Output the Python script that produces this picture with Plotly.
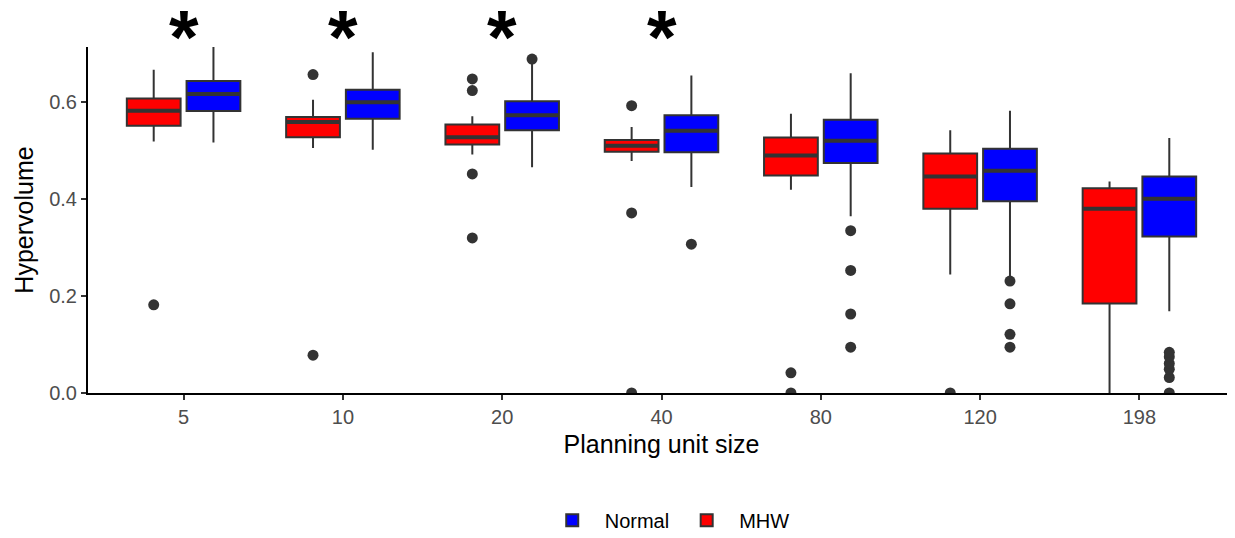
import plotly.graph_objects as go

categories = ["5", "10", "20", "40", "80", "120", "198"]

# MHW series (red)
mhw_q1 = [0.5515, 0.528, 0.513, 0.498, 0.449, 0.380, 0.1845]
mhw_median = [0.5825, 0.559, 0.528, 0.510, 0.490, 0.447, 0.380]
mhw_q3 = [0.6076, 0.5695, 0.554, 0.522, 0.527, 0.494, 0.4223]
mhw_lower = [0.519, 0.5055, 0.492, 0.479, 0.4196, 0.2443, 0.0]
mhw_upper = [0.667, 0.605, 0.571, 0.549, 0.576, 0.542, 0.4367]
mhw_outliers = [[0.182], [0.657, 0.078], [0.648, 0.624, 0.452, 0.320],
                [0.593, 0.3715, 0.0], [0.0416, 0.0], [0.0], []]

# Normal series (blue)
nor_q1 = [0.582, 0.566, 0.542, 0.497, 0.4746, 0.3955, 0.3227]
nor_median = [0.617, 0.600, 0.573, 0.541, 0.5206, 0.4588, 0.401]
nor_q3 = [0.644, 0.626, 0.602, 0.573, 0.564, 0.504, 0.447]
nor_lower = [0.517, 0.502, 0.466, 0.425, 0.3646, 0.236, 0.1687]
nor_upper = [0.715, 0.703, 0.682, 0.655, 0.660, 0.5825, 0.526]
nor_outliers = [[], [], [0.689], [0.307], [0.335, 0.253, 0.163, 0.0945],
                [0.231, 0.184, 0.121, 0.0945], [0.084, 0.075, 0.061, 0.049, 0.032, 0.0]]

significant = ["5", "10", "20", "40"]

FONT = "Liberation Sans, Arial, Helvetica, sans-serif"
EDGE = "#333333"

fig = go.Figure()

series = [
    ("MHW", "red", mhw_q1, mhw_median, mhw_q3, mhw_lower, mhw_upper, mhw_outliers, 2),
    ("Normal", "blue", nor_q1, nor_median, nor_q3, nor_lower, nor_upper, nor_outliers, 1),
]

for name, color, q1, med, q3, lo, hi, outs, rank in series:
    fig.add_trace(go.Box(
        name=name, x=categories, q1=q1, median=med, q3=q3,
        lowerfence=lo, upperfence=hi, boxpoints=False,
        fillcolor=color, line=dict(color=EDGE, width=2),
        whiskerwidth=0, offsetgroup=name, legendrank=rank,
        hoverinfo="skip",
    ))
    # thicker median line overlay
    fig.add_trace(go.Box(
        name=name, x=categories, q1=med, median=med, q3=med,
        lowerfence=med, upperfence=med,
        boxpoints=False, fillcolor=EDGE, line=dict(color=EDGE, width=4),
        whiskerwidth=0, offsetgroup=name, showlegend=False, hoverinfo="skip",
    ))
    # outlier points (box itself invisible)
    ox = [c for c, vals in zip(categories, outs) for _ in vals]
    oy = [v for vals in outs for v in vals]
    fig.add_trace(go.Box(
        name=name, x=ox, y=oy, boxpoints="all", pointpos=0, jitter=0,
        fillcolor="rgba(0,0,0,0)", line=dict(color="rgba(0,0,0,0)", width=0),
        marker=dict(color=EDGE, size=11, line=dict(width=0)),
        whiskerwidth=0, offsetgroup=name, showlegend=False, hoverinfo="skip",
    ))

for cat in significant:
    fig.add_annotation(x=categories.index(cat), y=1.0317, xref="x", yref="paper", text="<b>*</b>",
                       showarrow=False, yanchor="middle",
                       font=dict(family=FONT, size=76, color="black"))

fig.update_layout(
    width=1227, height=530,
    paper_bgcolor="white", plot_bgcolor="white",
    margin=dict(l=80, r=0, t=39, b=144.5, autoexpand=False),
    boxmode="group", boxgap=0.25, boxgroupgap=0.1,
    font=dict(family=FONT, color="black"),
    showlegend=True,
    legend=dict(orientation="h", x=0.505, xanchor="center", y=-0.368, yanchor="middle",
                font=dict(family=FONT, size=20, color="black"), itemwidth=55),
)

fig.update_xaxes(
    type="category", categoryorder="array", categoryarray=categories,
    range=[-0.6, 6.6], showline=True, linecolor="black", linewidth=2,
    ticks="outside", ticklen=5, tickwidth=2, tickcolor="#333333",
    tickfont=dict(family=FONT, size=20, color="#4d4d4d"),
    title=dict(text="Planning unit size", font=dict(family=FONT, size=25, color="black"), standoff=8),
    showgrid=False, zeroline=False, automargin=False,
)
fig.update_yaxes(
    range=[0, 0.714], tickvals=[0, 0.2, 0.4, 0.6], tickformat=".1f",
    showline=True, linecolor="black", linewidth=2,
    ticks="outside", ticklen=5, tickwidth=2, tickcolor="#333333",
    tickfont=dict(family=FONT, size=20, color="#4d4d4d"),
    title=dict(text="Hypervolume", font=dict(family=FONT, size=25, color="black"), standoff=8),
    showgrid=False, zeroline=False, automargin=False,
)

fig.write_html("out.html")
